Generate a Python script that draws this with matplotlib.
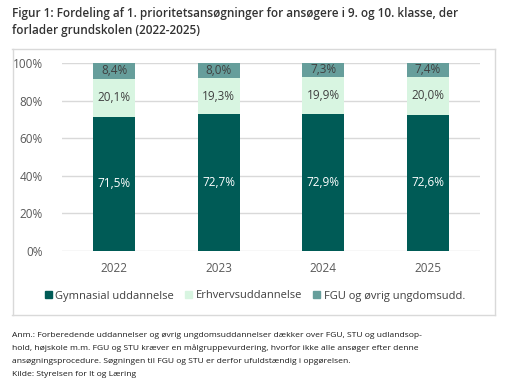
import matplotlib
matplotlib.use("Agg")
import matplotlib.pyplot as plt
from matplotlib.lines import Line2D
from matplotlib.patches import Rectangle
import numpy as np

years = ["2022", "2023", "2024", "2025"]
gymnasial = [71.5, 72.7, 72.9, 72.6]
erhverv = [20.1, 19.3, 19.9, 20.0]
fgu = [8.4, 8.0, 7.3, 7.4]
series_names = ["Gymnasial uddannelse", "Erhvervsuddannelse", "FGU og øvrig ungdomsudd."]
yticks = [0, 20, 40, 60, 80, 100]

colors = ["#005B56", "#D8F5E1", "#669E9B"]
label_colors = ["white", "#404040", "#404040"]

plt.rcParams['font.family'] = ['Open Sans', 'DejaVu Sans']

W, H = 507, 385
fig = plt.figure(figsize=(W / 100, H / 100), dpi=100)

def fx(px):
    return px / W

def fy(py):
    return 1 - py / H

ax = fig.add_axes([fx(62), fy(251), fx(480) - fx(62), fy(63) - fy(251)])

x = np.arange(len(years))
data = [gymnasial, erhverv, fgu]
bottom = np.zeros(len(years))
for vals, col, lc, name in zip(data, colors, label_colors, series_names):
    v = np.array(vals)
    ax.bar(x, v, bottom=bottom, width=0.4, color=col, label=name, zorder=3)
    for xi, b, vi in zip(x, bottom, v):
        yc = b + vi / 2
        if b + vi > 100:
            yc = b + (100 - b) / 2
        ax.text(xi, yc, f"{vi:.1f}%".replace(".", ","), ha="center", va="center",
                color=lc, fontsize=8.5, zorder=4)
    bottom += v

ax.set_xlim(-0.5, len(years) - 0.5)
ax.set_ylim(0, 100)
ax.set_yticks(yticks)
ax.set_yticklabels([f"{t}%" for t in yticks])
ax.set_xticks(x)
ax.set_xticklabels(years)
ax.tick_params(axis="both", length=0, colors="#595959", labelsize=8.5)
ax.tick_params(axis="y", pad=14)
ax.tick_params(axis="x", pad=8)
ax.grid(axis="y", color="#D9D9D9", linewidth=1, zorder=0)
for s in ax.spines.values():
    s.set_visible(False)

# Title
fig.text(fx(12), fy(17), "Figur 1: Fordeling af 1. prioritetsansøgninger for ansøgere i 9. og 10. klasse, der",
         fontsize=8.5, fontweight="semibold", color="#333333", va="baseline")
fig.text(fx(12), fy(34), "forlader grundskolen (2022-2025)",
         fontsize=8.5, fontweight="semibold", color="#333333", va="baseline")

# Frame lines
fig.add_artist(Line2D([fx(12), fx(495)], [fy(48.5), fy(48.5)], color="#D9D9D9", lw=1))
fig.add_artist(Line2D([fx(12.5), fx(12.5)], [fy(48.5), fy(314.5)], color="#D9D9D9", lw=1))
fig.add_artist(Line2D([fx(494.5), fx(494.5)], [fy(48.5), fy(314.5)], color="#D9D9D9", lw=1))
fig.add_artist(Line2D([fx(12), fx(495)], [fy(314.5), fy(314.5)], color="#D9D9D9", lw=1))

# Legend
handles = [Rectangle((0, 0), 1, 1, color=c) for c in colors]
fig.legend(handles, series_names, loc="center", bbox_to_anchor=(fx(255), fy(296)),
           ncol=3, frameon=False, fontsize=8, handlelength=0.65, handleheight=0.65,
           handletextpad=0.3, columnspacing=1.0, labelcolor="#404040")

# Footnote
notes = [
    "Anm.: Forberedende uddannelser og øvrig ungdomsuddannelser dækker over FGU, STU og udlandsop-",
    "hold, højskole m.m. FGU og STU kræver en målgruppevurdering, hvorfor ikke alle ansøger efter denne",
    "ansøgningsprocedure. Søgningen til FGU og STU er derfor ufuldstændig i opgørelsen.",
    "Kilde: Styrelsen for It og Læring",
]
for i, line in enumerate(notes):
    fig.text(fx(12), fy(337 + i * 13), line, fontsize=6.1, color="#1a1a1a", va="baseline")

fig.savefig("out.png", dpi=100)
